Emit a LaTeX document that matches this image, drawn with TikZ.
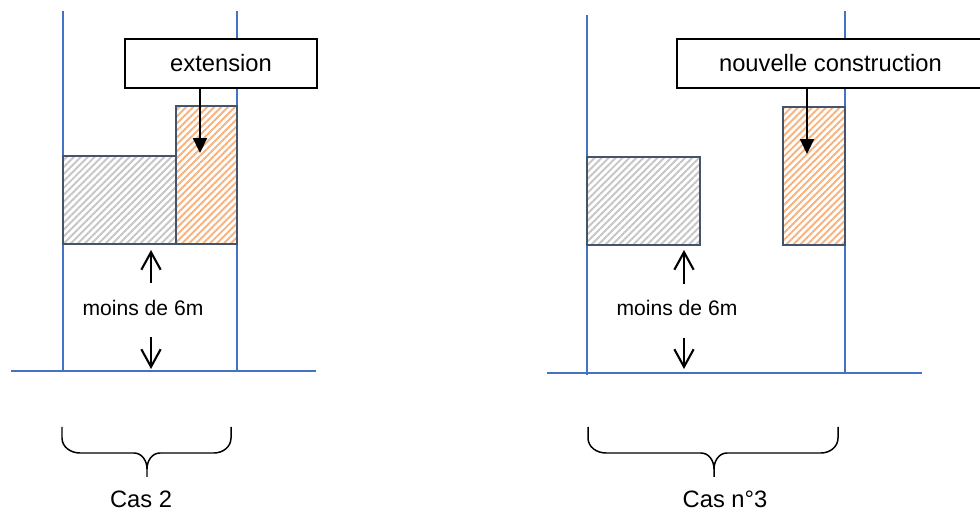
\documentclass[tikz,border=0pt]{standalone}
\usepackage{fontspec}
\setmainfont{Liberation Sans}
\usetikzlibrary{arrows.meta,
                patterns.meta,
                positioning}

\definecolor{limblue}{RGB}{68,114,196}
\definecolor{batedge}{RGB}{68,84,106}
\definecolor{hatchgrey}{RGB}{198,198,198}
\definecolor{hatchorange}{RGB}{248,178,125}

\begin{document}
\begin{tikzpicture}[x=0.02cm, y=-0.02cm,
    lim/.style = {color=limblue, line width=0.85pt},
    bat/.style = {rectangle, draw=batedge, line width=0.6pt, inner sep=0pt, outer sep=0pt},
    old/.style = {bat, pattern={Lines[angle=45, distance=2.8pt, line width=1.1pt]}, pattern color=hatchgrey},
    new/.style = {bat, pattern={Lines[angle=45, distance=2.8pt, line width=1.1pt]}, pattern color=hatchorange},
    lab/.style = {rectangle, draw, line width=1.1pt, fill=white, inner sep=0pt, minimum height=0.98cm, font=\fontsize{13.5}{16}\selectfont},
    point/.style = {-{Triangle[length=8.5pt, width=8pt]}, line width=1pt},
    cote/.style = {-{Straight Barb[length=10pt, width=11pt]}, line width=1.2pt},
    brace/.style = {line width=0.85pt}]

\clip (0,0) rectangle (980,516);

% Cas 2
\draw[lim] (63,11) -- (63,371);
\draw[lim] (237,11) -- (237,371);
\draw[lim] (11,371) -- (316,371);

\node[old, minimum width=2.26cm, minimum height=1.76cm] (old1) at (119.5,200) {};
\node[new, minimum width=1.22cm, minimum height=2.76cm] (new1) at (206.5,175) {};

\node[lab, minimum width=3.84cm] (ext) at (221,63.5) {extension};
\coordinate (extTip) at (200,153);
\draw[point] (ext.south -| extTip) -- (extTip);

\node[font=\fontsize{12}{14}\selectfont] (d1) at (143,308) {moins de 6m};
\coordinate (u1a) at (151,283);
\coordinate (u1b) at (151,250);
\coordinate (w1a) at (151,337);
\coordinate (w1b) at (151,369);
\draw[cote] (u1a) -- (u1b);
\draw[cote] (w1a) -- (w1b);

% Cas n°3
\draw[lim] (587,15) -- (587,375);
\draw[lim] (845,11) -- (845,372);
\draw[lim] (547,373) -- (922,373);

\node[old, minimum width=2.26cm, minimum height=1.76cm] (old2) at (643.5,201) {};
\node[new, minimum width=1.24cm, minimum height=2.76cm] (new2) at (814,176) {};

\node[lab, minimum width=6.14cm] (nc) at (830.5,63.5) {nouvelle construction};
\coordinate (ncTip) at (807,154);
\draw[point] (nc.south -| ncTip) -- (ncTip);

\node[font=\fontsize{12}{14}\selectfont] (d2) at (677,308) {moins de 6m};
\coordinate (u2a) at (684,284);
\coordinate (u2b) at (684,250);
\coordinate (w2a) at (684,338);
\coordinate (w2b) at (684,369);
\draw[cote] (u2a) -- (u2b);
\draw[cote] (w2a) -- (w2b);

% accolades
\draw[brace] (62,427) -- (62,438) to[out=-90, in=180] (80,453) -- (134,453)
    to[out=0, in=90] (147,469) -- (147,477);
\draw[brace] (231,427) -- (231,438) to[out=-90, in=0] (214,453) -- (160,453)
    to[out=180, in=90] (147,469);
\draw[brace] (588,427) -- (588,438) to[out=-90, in=180] (606,453) -- (701,453)
    to[out=0, in=90] (714,469) -- (714,477);
\draw[brace] (838,427) -- (838,438) to[out=-90, in=0] (821,453) -- (727,453)
    to[out=180, in=90] (714,469);

\node[font=\fontsize{13.5}{16}\selectfont] (c2) at (141,499) {Cas 2};
\node[font=\fontsize{13.5}{16}\selectfont] (c3) at (725,499) {Cas n°3};

\end{tikzpicture}
\end{document}
